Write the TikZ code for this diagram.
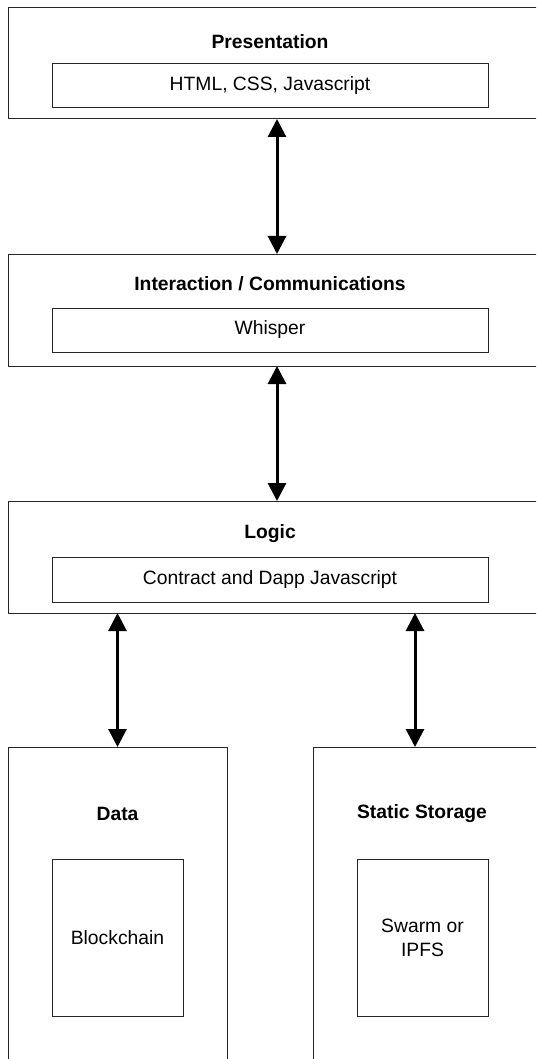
\documentclass[tikz,border=0pt]{standalone}
\usepackage{fontspec}
\setmainfont{Liberation Sans}
\usepackage{tikz}
\usetikzlibrary{arrows.meta,positioning}

\begin{document}
\begin{tikzpicture}[
   x=1pt, y=-1pt,
   font=\fontsize{19.3}{24}\selectfont,
   layer/.style={draw=black!85, line width=1pt, inner sep=0pt, outer sep=0pt},
   part/.style={draw=black!85, line width=1pt, inner sep=0pt, outer sep=0pt,
      align=center},
   title/.style={font=\fontsize{19.3}{24}\selectfont\bfseries, inner sep=1pt},
   arrow/.style={{Triangle[length=18pt,width=18pt]}-{Triangle[length=18pt,width=18pt]},
      line width=3pt}
]
\clip (0,0) rectangle (536,1059);

% three stacked layers
\node[layer, minimum width=542pt, minimum height=111pt] (pres) at (279,63.5) {};
\node[title] (presT) at (270,42) {Presentation};
\node[part, minimum width=436pt, minimum height=44pt] (presP) at (270,86)
   {HTML, CSS, Javascript};

\node[layer, minimum width=542pt, minimum height=112pt] (inter) at (279,310) {};
\node[title] (interT) at (270,284) {Interaction / Communications};
\node[part, minimum width=436pt, minimum height=44pt] (interP) at (270,330)
   {Whisper};

\node[layer, minimum width=542pt, minimum height=112pt] (logic) at (279,557) {};
\node[title] (logicT) at (270,534) {Logic};
\node[part, minimum width=436pt, minimum height=45pt] (logicP) at (270,579.5)
   {Contract and Dapp Javascript};

% bottom layers
\node[layer, minimum width=219pt, minimum height=333pt] (data) at (117.5,913.5) {};
\node[title] (dataT) at (117.5,814) {Data};
\node[part, minimum width=131pt, minimum height=157pt] (dataP) at (117.5,937.5)
   {Blockchain};

\node[layer, minimum width=247pt, minimum height=333pt] (stat) at (436.5,913.5) {};
\node[title] (statT) at (422,814) {Static Storage};
\node[part, minimum width=131pt, minimum height=157pt] (statP) at (422.5,937.5)
   {Swarm or\\IPFS};

\coordinate (ax) at (277,0);
\coordinate (sx) at (415,0);

\draw[arrow] (pres.south -| ax) -- (inter.north -| ax);
\draw[arrow] (inter.south -| ax) -- (logic.north -| ax);
\draw[arrow] (logic.south -| data.north) -- (data.north);
\draw[arrow] (logic.south -| sx) -- (stat.north -| sx);
\end{tikzpicture}
\end{document}
